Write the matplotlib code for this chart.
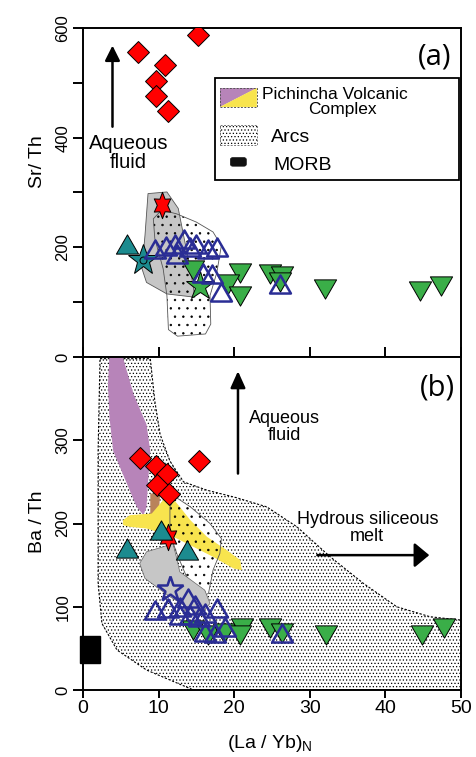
import numpy as np
import matplotlib
matplotlib.use('Agg')
import matplotlib.pyplot as plt
from matplotlib.patches import Polygon, Rectangle, FancyBboxPatch
from matplotlib.path import Path

plt.rcParams['font.family'] = ['Liberation Sans', 'DejaVu Sans']
plt.rcParams['hatch.linewidth'] = 0.5

# ---------------- data ----------------
# panel (a): Sr/Th vs (La/Yb)N
pvc_lay_a = [15.2, 7.3, 10.8, 9.7, 9.7, 11.3]
pvc_srth = [588, 556, 533, 503, 476, 448]
hexa_lay_a = [10.4]
hexa_srth = [277]
teal_tri_lay_a = [5.8]
teal_tri_srth = [206]
teal_star_lay_a = [8.0]
teal_star_srth = [176]
green_star_lay_a = [15.5]
green_star_srth = [130]
blue_tri_lay_a = [9.5, 11.0, 12.2, 13.3, 14.2, 15.0, 16.6, 17.7, 12.4, 15.9, 17.0, 18.3, 26.1]
blue_tri_srth = [197, 203, 206, 216, 200, 206, 197, 200, 188, 154, 151, 118, 133]
green_tri_lay_a = [14.6, 20.8, 19.2, 20.8, 24.7, 26.3, 26.1, 32.0, 44.6, 47.4]
green_tri_srth = [158, 154, 133, 112, 152, 148, 136, 124, 121, 130]

# panel (b): Ba/Th vs (La/Yb)N
pvc_lay_b = [7.5, 9.7, 11.1, 9.8, 11.4, 15.4]
pvc_bath = [279, 269, 259, 246, 236, 275]
hexa_lay_b = [11.2]
hexa_bath = [184]
teal_tri_lay_b = [10.3, 5.8, 13.8]
teal_tri_bath = [192, 170, 168]
blue_star_lay_b = [11.5]
blue_star_bath = [121]
blue_tri_lay_b = [9.5, 11.3, 12.8, 13.9, 14.8, 16.1, 17.7, 12.8, 14.2, 15.3, 16.1, 17.5, 18.8, 26.3]
blue_tri_bath = [96, 98, 100, 110, 102, 92, 98, 90, 90, 88, 70, 68, 76, 68]
green_tri_lay_b = [14.6, 16.6, 18.6, 21.0, 20.8, 24.7, 26.3, 32.2, 44.8, 47.7]
green_tri_bath = [72, 66, 69, 74, 66, 74, 68, 66, 66, 74]
morb_lay = [-0.4, 2.3]
morb_bath = [33, 65]

# fields (La/Yb)N, ratio
field_gray_a = [(8.6, 298), (11.1, 301), (12.6, 271), (13.3, 222), (14.2, 161), (14.8, 109),
                (11.1, 115), (8.4, 136), (7.8, 161), (8.2, 222)]
field_dots_a = [(9.3, 252), (10.4, 268), (12.4, 261), (15.0, 246), (17.2, 228), (18.3, 203),
                (17.7, 154), (16.8, 112), (16.9, 60), (16.2, 42), (12.5, 38), (11.3, 50),
                (11.1, 112), (10.6, 161), (9.5, 216)]
field_arcs_b = [(2.25, 398), (8.9, 398), (9.5, 347), (10.2, 307), (11.5, 275), (13.3, 250),
                (16.4, 240), (20.3, 231), (24.3, 220), (28.3, 196), (32.7, 160), (37.1, 128),
                (41.5, 100), (45.9, 88), (50, 84), (50, 0), (14.6, 0), (8.4, 24), (4.5, 48),
                (2.5, 80), (2.0, 128), (2.0, 288)]
field_purple_b = [(3.5, 402), (5.2, 402), (6.7, 355), (8.4, 319), (8.9, 287), (8.6, 248),
                  (8.4, 220), (8.0, 210), (7.1, 220), (5.8, 248), (4.0, 287), (3.5, 327),
                  (3.3, 367)]
field_brown_b = [(8.9, 236), (10.2, 236), (10.0, 206), (8.9, 204)]
field_yellow_b = [(5.3, 204), (6.2, 210), (9.1, 212), (10.6, 228), (11.7, 232), (12.8, 220),
                  (14.2, 204), (16.4, 184), (19.0, 168), (20.8, 156), (21.0, 144), (19.9, 146),
                  (17.2, 160), (14.6, 172), (12.4, 182), (10.6, 188), (8.4, 194), (6.2, 196),
                  (5.3, 198)]
field_gray_b = [(8.4, 166), (10.6, 172), (11.9, 176), (12.4, 158), (12.8, 142), (14.6, 130),
                (16.1, 120), (16.8, 104), (15.5, 90), (13.7, 100), (11.5, 112), (9.7, 124),
                (8.2, 134), (7.5, 152)]
field_dots_b = [(12.2, 232), (14.2, 220), (16.8, 200), (18.3, 182), (18.1, 164), (17.2, 144),
                (16.6, 116), (15.5, 112), (13.7, 136), (12.4, 164), (11.5, 188), (11.5, 220)]

xticks = [0, 10, 20, 30, 40, 50]
yticks_a = [0, 100, 200, 300, 400, 500, 600]
yticklabels_a = ['0', '', '200', '', '400', '', '600']
yticks_b = [0, 100, 200, 300]
yticklabels_b = ['0', '100', '200', '300']

# ---------------- styles ----------------
RED = '#FF0000'
TEAL = '#1C8B8F'
GREEN = '#3AAE48'
BLUE = '#2A2D95'
PURPLE = '#B784B9'
YELLOW = '#F8E44E'
GRAY = '#C6C6C6'
BROWN = '#B9835B'

TRI_UP = Path([(-1, -0.866), (1, -0.866), (0, 0.866), (-1, -0.866)],
              [Path.MOVETO, Path.LINETO, Path.LINETO, Path.CLOSEPOLY])
TRI_DN = Path([(-1, 0.866), (1, 0.866), (0, -0.866), (-1, 0.866)],
              [Path.MOVETO, Path.LINETO, Path.LINETO, Path.CLOSEPOLY])
# elongated six-pointed star
_ang = np.pi / 2 + np.arange(12) * np.pi / 6
_rad = np.where(np.arange(12) % 2 == 0, 1.0, 0.55)
HEXA = Path(np.column_stack([0.72 * _rad * np.cos(_ang), _rad * np.sin(_ang)]).tolist()
            + [[0, 1]], [Path.MOVETO] + [Path.LINETO] * 11 + [Path.CLOSEPOLY])

fig = plt.figure(figsize=(4.77, 7.57), dpi=100)
ax1 = fig.add_axes([83 / 477, 1 - 357 / 757, 378 / 477, 329 / 757])
ax2 = fig.add_axes([83 / 477, 1 - 690 / 757, 378 / 477, 333 / 757])

for ax in (ax1, ax2):
    ax.set_xlim(0, 50)
    ax.set_xticks(xticks)
    for s in ax.spines.values():
        s.set_linewidth(1.4)

ax1.set_ylim(0, 600)
ax1.set_yticks(yticks_a)
ax1.set_yticklabels(yticklabels_a)
ax1.tick_params(axis='x', direction='in', length=7, width=1.4, labelbottom=False)
ax1.tick_params(axis='y', direction='out', length=7, width=1.4, labelsize=12, pad=2)

ax2.set_ylim(0, 400)
ax2.set_yticks(yticks_b)
ax2.set_yticklabels(yticklabels_b)
ax2.tick_params(axis='x', direction='out', length=6, width=1.4, labelsize=14, pad=1)
ax2.tick_params(axis='y', direction='out', length=7, width=1.4, labelsize=12, pad=2)

for ax in (ax1, ax2):
    for lab in ax.get_yticklabels():
        lab.set_rotation(90)
        lab.set_va('center')


def mk(ax, x, y, marker, ms, fc, ec='k', mew=0.7, z=4):
    ax.plot(x, y, ls='none', marker=marker, ms=ms, mfc=fc, mec=ec, mew=mew, zorder=z)


# ---------------- panel (a) ----------------
ax1.add_patch(Polygon(field_gray_a, closed=True, fc=GRAY, ec='#555555', lw=0.6, zorder=1))
ax1.add_patch(Polygon(field_dots_a, closed=True, fc='none', ec='k', lw=0, hatch='..', zorder=1.5))
ax1.add_patch(Polygon(field_dots_a, closed=True, fill=False, ec='#555555', lw=0.6, zorder=1.6))

mk(ax1, pvc_lay_a, pvc_srth, 'D', 11, RED)
mk(ax1, hexa_lay_a, hexa_srth, HEXA, 19, RED)
mk(ax1, teal_tri_lay_a, teal_tri_srth, TRI_UP, 16, TEAL)
mk(ax1, green_tri_lay_a, green_tri_srth, TRI_DN, 16, GREEN)
mk(ax1, teal_star_lay_a, teal_star_srth, '*', 23, TEAL, z=4.5)
mk(ax1, teal_star_lay_a, teal_star_srth, 'o', 5, 'none', z=4.6)
mk(ax1, green_star_lay_a, green_star_srth, '*', 21, GREEN, z=4.5)
mk(ax1, blue_tri_lay_a, blue_tri_srth, TRI_UP, 15, 'none', ec=BLUE, mew=1.8, z=5)

ax1.annotate('', xy=(3.9, 568), xytext=(3.9, 420),
             arrowprops=dict(arrowstyle='-|>,head_length=0.9,head_width=0.45', lw=1.8,
                             color='k', shrinkA=0, shrinkB=0, mutation_scale=10))
ax1.text(6.0, 372, 'Aqueous\nfluid', ha='center', va='center', fontsize=14.5, linespacing=1.05)
ax1.text(0.931, 0.912, '(a)', transform=ax1.transAxes, ha='center', va='center',
         fontsize=21, family=['Open Sans', 'DejaVu Sans'])

# legend
T = ax1.transAxes
ax1.add_patch(Rectangle((0.349, 0.538), 0.646, 0.31, transform=T, fc='white', ec='k',
                        lw=1.3, zorder=7))
x0, x1, y0, y1 = 0.362, 0.460, 0.760, 0.818
ax1.add_patch(Polygon([(x0, y0), (x0, y1), (x1, y1)], closed=True, transform=T, fc=PURPLE,
                      ec='none', zorder=8))
ax1.add_patch(Polygon([(x0, y0), (x1, y1), (x1, y0)], closed=True, transform=T, fc=YELLOW,
                      ec='none', zorder=8))
ax1.add_patch(Rectangle((x0, y0), x1 - x0, y1 - y0, transform=T, fill=False, ec='#555555',
                        lw=0.7, ls=(0, (2, 1.5)), zorder=9))
ax1.add_patch(Rectangle((x0, 0.644), x1 - x0, 0.061, transform=T, fc='white', ec='k', lw=0,
                        hatch='.....', zorder=8))
ax1.add_patch(Rectangle((x0, 0.644), x1 - x0, 0.061, transform=T, fill=False, ec='#777777',
                        lw=0.7, ls=(0, (2, 1.5)), zorder=9))
ax1.add_patch(FancyBboxPatch((0.390, 0.580), 0.042, 0.026, boxstyle='round,pad=0,rounding_size=0.006',
                             transform=T, fc='#111111', ec='#111111', lw=0.5, zorder=9))
ax1.text(0.667, 0.784, 'Pichincha Volcanic', transform=T, ha='center', va='baseline',
         fontsize=12.5, zorder=10)
ax1.text(0.686, 0.740, 'Complex', transform=T, ha='center', va='baseline', fontsize=12.5,
         zorder=10)
ax1.text(0.497, 0.654, 'Arcs', transform=T, ha='left', va='baseline', fontsize=14, zorder=10)
ax1.text(0.503, 0.568, 'MORB', transform=T, ha='left', va='baseline', fontsize=14, zorder=10)

# ---------------- panel (b) ----------------
ax2.add_patch(Polygon(field_arcs_b, closed=True, fc='white', ec='k', lw=0, hatch='.....', zorder=1))
ax2.add_patch(Polygon(field_arcs_b, closed=True, fill=False, ec='k', lw=0.8, ls=(0, (2, 1.5)),
                      zorder=1.1))
ax2.add_patch(Polygon(field_purple_b, closed=True, fc=PURPLE, ec='none', zorder=1.2))
ax2.add_patch(Polygon(field_dots_b, closed=True, fc='white', ec='none', zorder=1.3))
ax2.add_patch(Polygon(field_brown_b, closed=True, fc=BROWN, ec='none', zorder=1.4))
ax2.add_patch(Polygon(field_yellow_b, closed=True, fc=YELLOW, ec='none', zorder=1.5))
ax2.add_patch(Polygon(field_dots_b, closed=True, fc='none', ec='k', lw=0, hatch='..', zorder=1.6))
ax2.add_patch(Polygon(field_dots_b, closed=True, fill=False, ec='#555555', lw=0.6, zorder=1.7))
ax2.add_patch(Polygon(field_gray_b, closed=True, fc=GRAY, ec='#666666', lw=0.5, zorder=1.8))
ax2.add_patch(Rectangle((morb_lay[0], morb_bath[0]), morb_lay[1] - morb_lay[0],
                        morb_bath[1] - morb_bath[0], fc='k', ec='k', clip_on=False, zorder=3))

mk(ax2, pvc_lay_b, pvc_bath, 'D', 11, RED)
mk(ax2, hexa_lay_b, hexa_bath, HEXA, 19, RED)
mk(ax2, teal_tri_lay_b, teal_tri_bath, TRI_UP, 16, TEAL)
mk(ax2, green_tri_lay_b, green_tri_bath, TRI_DN, 16, GREEN)
mk(ax2, blue_tri_lay_b, blue_tri_bath, TRI_UP, 15, 'none', ec=BLUE, mew=1.8)
mk(ax2, blue_star_lay_b, blue_star_bath, '*', 19, 'none', ec=BLUE, mew=1.8)

ax2.annotate('', xy=(20.5, 383), xytext=(20.5, 260),
             arrowprops=dict(arrowstyle='-|>,head_length=1.0,head_width=0.45', lw=1.8,
                             color='k', shrinkA=0, shrinkB=0, mutation_scale=10))
ax2.annotate('', xy=(45.8, 162), xytext=(31.0, 162),
             arrowprops=dict(arrowstyle='-|>,head_length=0.9,head_width=0.75', lw=1.8,
                             color='k', shrinkA=0, shrinkB=0, mutation_scale=10))
ax2.text(26.6, 316, 'Aqueous\nfluid', ha='center', va='center', fontsize=13, linespacing=1.0)
ax2.text(37.6, 194, 'Hydrous siliceous\nmelt', ha='center', va='center', fontsize=13,
         linespacing=1.0)
ax2.text(0.937, 0.907, '(b)', transform=ax2.transAxes, ha='center', va='center',
         fontsize=21, family=['Open Sans', 'DejaVu Sans'])

fig.text(38 / 477, 1 - 162 / 757, 'Sr/ Th', rotation=90, ha='center', va='center', fontsize=14)
fig.text(38 / 477, 1 - 522 / 757, 'Ba / Th', rotation=90, ha='center', va='center', fontsize=14)
fig.text(270 / 477, 1 - 744 / 757, r'(La / Yb)$_\mathregular{N}$', ha='center', va='center',
         fontsize=14)

fig.savefig('out.png', dpi=100)
